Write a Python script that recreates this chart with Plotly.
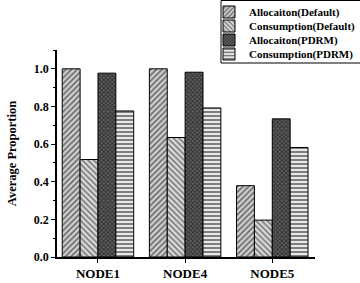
import plotly.graph_objects as go

categories = ["NODE1", "NODE4", "NODE5"]
alloc_default = [1.0, 1.0, 0.379]
cons_default = [0.518, 0.635, 0.196]
alloc_pdrm = [0.977, 0.982, 0.734]
cons_pdrm = [0.776, 0.792, 0.582]
series_names = ["Allocaiton(Default)", "Consumption(Default)", "Allocaiton(PDRM)", "Consumption(PDRM)"]
y_ticks = [0.0, 0.2, 0.4, 0.6, 0.8, 1.0]

FONT = "Liberation Serif"
L, R, T, B, W, H = 57, 45, 50, 26, 360, 283
PW, PH = W - L - R, H - T - B

patterns = [
    dict(shape="/", fgcolor="black", bgcolor="#d0d0d0", size=4, solidity=0.4),
    dict(shape="\\", fgcolor="black", bgcolor="#d8d8d8", size=4, solidity=0.35),
    dict(shape="x", fgcolor="black", bgcolor="#606060", size=3, solidity=0.5),
    dict(shape="-", fgcolor="black", bgcolor="#e8e8e8", size=4, solidity=0.45),
]
legend_ids = ["legend", "legend2", "legend3", "legend4"]

fig = go.Figure()
for name, vals, pat, lg in zip(series_names, [alloc_default, cons_default, alloc_pdrm, cons_pdrm], patterns, legend_ids):
    fig.add_trace(go.Bar(
        x=categories, y=vals, name=name, legend=lg,
        marker=dict(color="white", pattern=pat, line=dict(color="black", width=1)),
    ))

def px_to_paper_y(py):
    return (H - B - py) / PH

def px_to_paper_x(px):
    return (px - L) / PW

legend_rows_px = [12, 26, 40, 54]
legend_common = dict(
    xanchor="left", yanchor="middle", bgcolor="rgba(0,0,0,0)", borderwidth=0,
    font=dict(family=FONT, size=11, color="black", weight="bold"),
    itemwidth=30,
)
legends = {}
for lg, py in zip(legend_ids, legend_rows_px):
    legends[lg] = dict(x=px_to_paper_x(209), y=px_to_paper_y(py), **legend_common)

fig.update_layout(
    width=W, height=H,
    margin=dict(l=L, r=R, t=T, b=B, autoexpand=False),
    paper_bgcolor="white", plot_bgcolor="white",
    barmode="group", bargap=0.18, bargroupgap=0,
    font=dict(family=FONT, size=12, color="black", weight="bold"),
    showlegend=True,
    xaxis=dict(
        range=[-0.47, 2.49], showline=True, linecolor="black", linewidth=1.5,
        ticks="outside", ticklen=4, tickcolor="black",
        tickfont=dict(family=FONT, size=13, color="black", weight="bold"),
        showgrid=False, zeroline=False,
    ),
    yaxis=dict(
        range=[0, 1.1], showline=True, linecolor="black", linewidth=1.5,
        tickvals=y_ticks, ticktext=[f"{v:.1f}" for v in y_ticks],
        ticks="outside", ticklen=4, tickcolor="black",
        minor=dict(dtick=0.1, ticks="outside", ticklen=2, tickcolor="black", showgrid=False),
        tickfont=dict(family=FONT, size=12, color="black", weight="bold"),
        title=dict(text="Average Proportion", font=dict(family=FONT, size=12.5, color="black", weight="bold"), standoff=14),
        showgrid=False, zeroline=False,
    ),
    shapes=[dict(
        type="rect", xref="paper", yref="paper",
        x0=px_to_paper_x(221), x1=px_to_paper_x(365),
        y0=px_to_paper_y(63), y1=px_to_paper_y(0.5),
        line=dict(color="black", width=1), fillcolor="rgba(0,0,0,0)", layer="above",
    )],
    **legends,
)

fig.write_html(
    "out.html",
    config={"displayModeBar": False},
    post_script="document.body.style.margin='0';document.body.style.padding='0';",
)
